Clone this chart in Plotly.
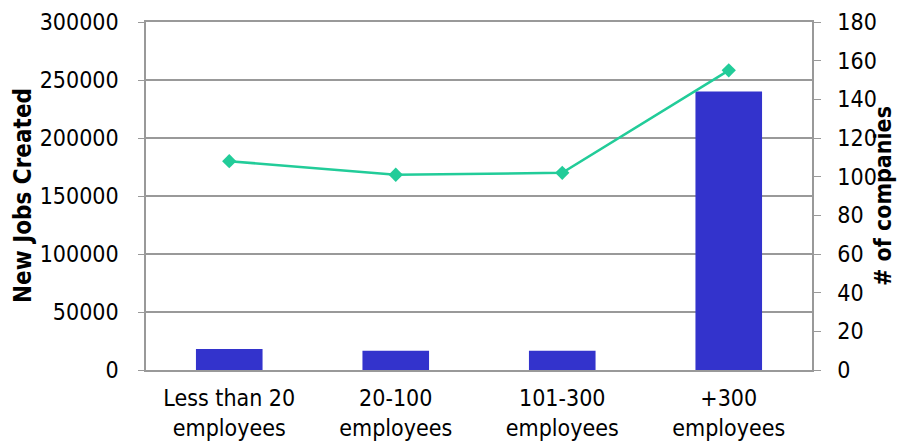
import plotly.graph_objects as go

categories = ["Less than 20<br>employees", "20-100<br>employees", "101-300<br>employees", "+300<br>employees"]
new_jobs = [18000, 16500, 16500, 240000]
companies = [108, 101, 102, 155]

left_ticks = [0, 50000, 100000, 150000, 200000, 250000, 300000]
right_ticks = [0, 20, 40, 60, 80, 100, 120, 140, 160, 180]

left_title = "New Jobs Created"
right_title = "# of companies"

font_family = "DejaVu Sans Condensed, DejaVu Sans, sans-serif"
axis_grey = "#999999"

W, H = 898, 443
ML, MR, MT, MB = 146, 86, 22, 73
plot_w = W - ML - MR

fig = go.Figure()
fig.add_trace(go.Bar(
    x=categories, y=new_jobs, name=left_title,
    marker=dict(color="#3333CC", line=dict(width=0)),
    width=0.4, yaxis="y",
))
fig.add_trace(go.Scatter(
    x=categories, y=companies, name=right_title,
    mode="lines+markers",
    line=dict(color="#22CC99", width=2.5),
    marker=dict(symbol="diamond", size=11, color="#22CC99"),
    yaxis="y2",
))

# Axis titles placed as rotated annotations so their position is independent of tick labels
fig.add_annotation(
    text=f"<b>{left_title}</b>", textangle=-90, showarrow=False,
    xref="paper", yref="paper", x=(23 - ML) / plot_w, y=0.5,
    xanchor="center", yanchor="middle", font=dict(size=24),
)
fig.add_annotation(
    text=f"<b>{right_title}</b>", textangle=-90, showarrow=False,
    xref="paper", yref="paper", x=(883 - ML) / plot_w, y=0.5,
    xanchor="center", yanchor="middle", font=dict(size=23),
)

fig.update_layout(
    width=W, height=H,
    margin=dict(l=ML, r=MR, t=MT, b=MB),
    paper_bgcolor="white", plot_bgcolor="white",
    showlegend=False,
    font=dict(family=font_family, size=23, color="black"),
    xaxis=dict(
        showline=True, linecolor=axis_grey, linewidth=1.5, mirror=True,
        ticks="", tickfont=dict(size=23), showgrid=False,
        ticklabelstandoff=7, automargin=False,
    ),
    yaxis=dict(
        range=[0, 300000], tickvals=left_ticks, ticktext=[str(v) for v in left_ticks],
        showgrid=True, gridcolor=axis_grey, gridwidth=1.5,
        showline=True, linecolor=axis_grey, linewidth=1.5,
        ticks="outside", ticklen=6, tickcolor=axis_grey,
        tickfont=dict(size=23), ticklabelstandoff=15,
        zeroline=False, automargin=False,
    ),
    yaxis2=dict(
        range=[0, 180], tickvals=right_ticks, overlaying="y", side="right",
        showgrid=False, showline=True, linecolor=axis_grey, linewidth=1.5,
        ticks="outside", ticklen=7, tickcolor=axis_grey,
        tickfont=dict(size=23), ticklabelstandoff=12,
        zeroline=False, automargin=False,
    ),
)

fig.write_html("out.html")
